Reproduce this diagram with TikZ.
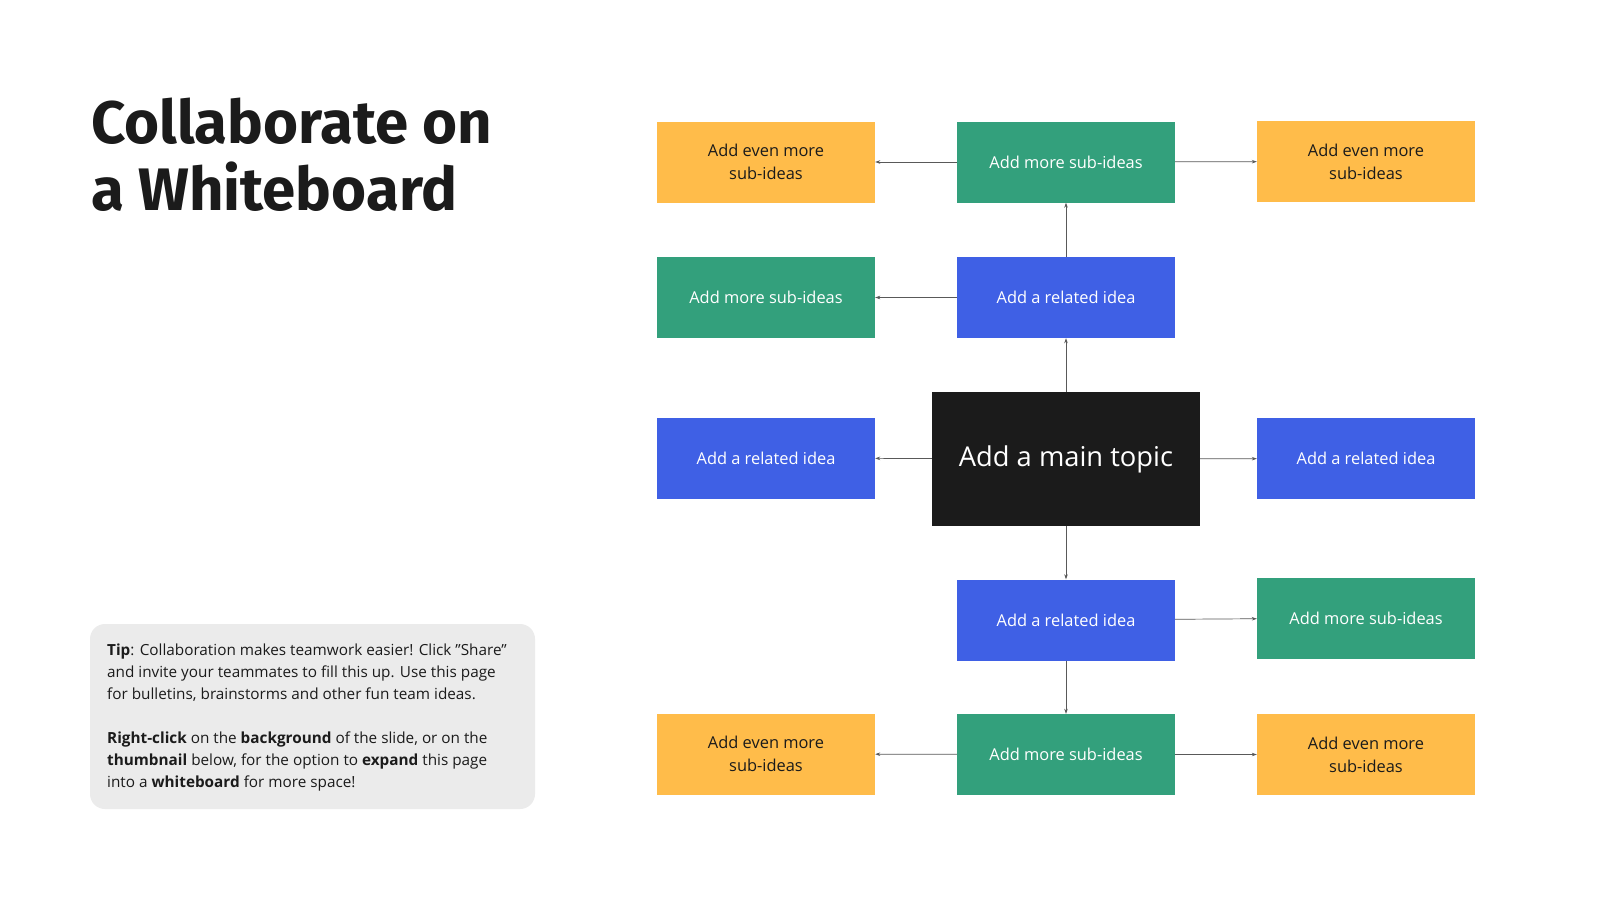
\documentclass[tikz,border=0pt]{standalone}
\usepackage{fontspec}
\setmainfont{Open Sans}
\newfontfamily\titlefont{Fira Sans}
\usetikzlibrary{arrows.meta}

\definecolor{ideayellow}{HTML}{FFBC4A}
\definecolor{ideagreen}{HTML}{33A07C}
\definecolor{ideablue}{HTML}{3F60E5}
\definecolor{ideablack}{HTML}{1B1B1B}
\definecolor{tipgray}{HTML}{EBEBEB}

\tikzset{
    idea/.style={rectangle, minimum width=218pt, minimum height=81pt,
        inner sep=0pt, align=center, font=\fontsize{16.4}{23}\selectfont},
    subsub/.style={idea, fill=ideayellow, text=ideablack},
    sub/.style={idea, fill=ideagreen, text=white},
    related/.style={idea, fill=ideablue, text=white},
    link/.style={draw=black!65, line width=0.7pt, -{Stealth[length=5pt,width=3.5pt]}}
}

\begin{document}
\begin{tikzpicture}[x=1pt, y=-1pt]
        \fill[white] (0,0) rectangle (1600,900);
        \useasboundingbox (0,0) rectangle (1600,900);

        % title and tip
        \node[anchor=base west, inner sep=0pt, align=left, text=ideablack,
            font=\titlefont\bfseries\fontsize{60}{67}\selectfont] (title) at (91,210)
            {Collaborate on\\a Whiteboard};
        \fill[tipgray, rounded corners=15pt] (90,624) rectangle (535,809);
        \node[anchor=north west, inner sep=0pt, align=left, text=ideablack,
            font=\fontsize{15.3}{22}\selectfont] (tip) at (107,644)
            {\textbf{Tip}: Collaboration makes teamwork easier! Click \symbol{34}Share\symbol{34}\\
             and invite your teammates to fill this up. Use this page\\
             for bulletins, brainstorms and other fun team ideas.\\[22pt]
             \textbf{Right-click} on the \textbf{background} of the slide, or on the\\
             \textbf{thumbnail} below, for the option to \textbf{expand} this page\\
             into a \textbf{whiteboard} for more space!};

        % main topic
        \node[rectangle, fill=ideablack, text=white, minimum width=268pt,
            minimum height=134pt, font=\fontsize{27.3}{30}\selectfont] (main) at (1066,459)
            {Add a main topic};

        % upper branch
        \node[related] (relup) at (1066,297.5) {Add a related idea};
        \node[sub] (subup) at (1066,162) {Add more sub-ideas};
        \node[subsub] (moreupl) at (766,162) {Add even more\\sub-ideas};
        \node[subsub] (moreupr) at (1366,161.5) {Add even more\\sub-ideas};
        \node[sub] (subleft) at (766,297.5) {Add more sub-ideas};

        % sides
        \node[related] (relleft) at (766,458) {Add a related idea};
        \node[related] (relright) at (1366,458.5) {Add a related idea};

        % lower branch
        \node[related] (reldown) at (1066,620) {Add a related idea};
        \node[sub] (subright) at (1366,618) {Add more sub-ideas};
        \node[sub] (subdown) at (1066,754.5) {Add more sub-ideas};
        \node[subsub] (moredownl) at (766,754) {Add even more\\sub-ideas};
        \node[subsub] (moredownr) at (1366,754.5) {Add even more\\sub-ideas};

        \draw[link] (main) -- (relup);
        \draw[link] (relup) -- (subup);
        \draw[link] (subup) -- (moreupl);
        \draw[link] (subup) -- (moreupr);
        \draw[link] (relup) -- (subleft);
        \draw[link] (main) -- (relleft);
        \draw[link] (main) -- (relright);
        \draw[link] (main) -- (reldown);
        \draw[link] (reldown) -- (subright);
        \draw[link] (reldown) -- (subdown);
        \draw[link] (subdown) -- (moredownl);
        \draw[link] (subdown) -- (moredownr);
    \end{tikzpicture}
\end{document}
